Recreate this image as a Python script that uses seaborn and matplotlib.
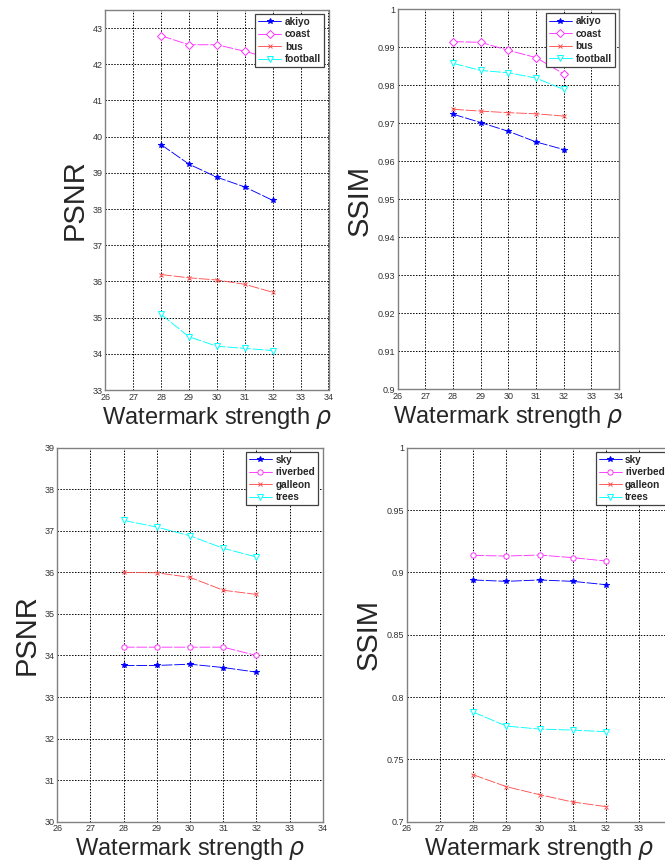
import matplotlib
matplotlib.use("Agg")
import matplotlib.pyplot as plt
import matplotlib.ticker as mticker
import numpy as np
import pandas as pd
import seaborn as sns

sns.set_style("white")
plt.rcParams["font.family"] = ["Liberation Sans", "DejaVu Sans"]
plt.rcParams["mathtext.fontset"] = "dejavusans"

# ---------------- data ----------------
rho = [28, 29, 30, 31, 32]

# top-left: PSNR
psnr_akiyo = [39.78, 39.24, 38.88, 38.61, 38.24]
psnr_coast = [42.79, 42.54, 42.54, 42.36, 42.15]
psnr_bus = [36.19, 36.10, 36.04, 35.92, 35.70]
psnr_football = [35.09, 34.47, 34.21, 34.15, 34.09]

# top-right: SSIM
ssim_akiyo = [0.9724, 0.9702, 0.9679, 0.9651, 0.9631]
ssim_coast = [0.9915, 0.9913, 0.9892, 0.9873, 0.9830]
ssim_bus = [0.9737, 0.9732, 0.9728, 0.9725, 0.9719]
ssim_football = [0.9858, 0.9839, 0.9833, 0.9819, 0.9789]

# bottom-left: PSNR
psnr_sky = [33.76, 33.76, 33.79, 33.71, 33.60]
psnr_riverbed = [34.20, 34.20, 34.20, 34.20, 34.00]
psnr_galleon = [36.00, 35.99, 35.88, 35.57, 35.47]
psnr_trees = [37.25, 37.09, 36.88, 36.58, 36.37]

# bottom-right: SSIM
ssim_sky = [0.8939, 0.8928, 0.8939, 0.8928, 0.8901]
ssim_riverbed = [0.9136, 0.9131, 0.9139, 0.9118, 0.9091]
ssim_galleon = [0.7377, 0.7281, 0.7217, 0.7158, 0.7121]
ssim_trees = [0.7880, 0.7767, 0.7743, 0.7735, 0.7722]

top_names = ["akiyo", "coast", "bus", "football"]
bot_names = ["sky", "riverbed", "galleon", "trees"]

colors = ["#0000FF", "#FF33FF", "#FF5050", "#00FFFF"]
top_markers = ["*", "D", "x", "v"]
bot_markers = ["*", "o", "x", "v"]
marker_sizes = [4, 3.8, 2.8, 4.2]
open_marker = [False, True, False, True]

xlabel_text = r"Watermark strength $\rho$"

W, H = 665, 863
fig = plt.figure(figsize=(W / 100, H / 100), dpi=100)


def px_rect(left, right, top, bottom):
    return [left / W, 1 - bottom / H, (right - left) / W, (bottom - top) / H]


def panel(rect, names, series, markers, ylim, ystep, ylabel, ylab_px):
    ax = fig.add_axes(rect)
    for name, vals, col, mk, ms, op in zip(names, series, colors, markers,
                                           marker_sizes, open_marker):
        df = pd.DataFrame({"rho": rho, "val": vals})
        kw = dict(marker=mk, markersize=ms, markeredgecolor=col,
                  markeredgewidth=0.7,
                  markerfacecolor="white" if op else col)
        sns.lineplot(data=df, x="rho", y="val", ax=ax, color=col, label=name,
                     linewidth=0.65, linestyle=(0, (12, 2)), **kw)
    ax.set_xlim(26, 34)
    ax.set_ylim(*ylim)
    ax.xaxis.set_major_locator(mticker.MultipleLocator(1))
    ax.yaxis.set_major_locator(mticker.MultipleLocator(ystep))
    ax.yaxis.set_major_formatter(mticker.FuncFormatter(lambda v, p: f"{round(v, 4):g}"))
    ax.grid(True, color="black", linestyle=(0, (1.5, 1.5)), linewidth=0.7)
    ax.set_axisbelow(True)
    ax.tick_params(direction="in", length=3, width=0.6, labelsize=6.5,
                   pad=2, colors="#555555")
    for lbl in ax.get_xticklabels() + ax.get_yticklabels():
        lbl.set_color("#333333")
    for s in ax.spines.values():
        s.set_color("#808080")
        s.set_linewidth(1.0)
    ax.set_xlabel(xlabel_text, fontsize=17, labelpad=2)
    ax.set_ylabel("")
    fig.text(ylab_px[0] / W, 1 - ylab_px[1] / H, ylabel, rotation=90,
             ha="center", va="center", fontsize=21)
    bb = ax.get_position()
    wpx = bb.width * W
    hpx = bb.height * H
    leg = ax.legend(loc="upper right", bbox_to_anchor=(1 - 4.5 / wpx, 1 - 4 / hpx),
                    borderaxespad=0, frameon=True, fancybox=False,
                    edgecolor="#404040", framealpha=1,
                    prop={"weight": "bold", "size": 7.2},
                    handlelength=2.3, handletextpad=0.35, labelspacing=0.25,
                    borderpad=0.3)
    leg.get_frame().set_linewidth(0.9)
    for ln in leg.get_lines():
        ln.set_linestyle("-")
    return ax


panel(px_rect(105.3, 328.5, 10, 390), top_names,
      [psnr_akiyo, psnr_coast, psnr_bus, psnr_football], top_markers,
      (33, 43.5), 1, "PSNR", (75, 200))
panel(px_rect(397.7, 619, 9.3, 389.3), top_names,
      [ssim_akiyo, ssim_coast, ssim_bus, ssim_football], top_markers,
      (0.9, 1.0), 0.01, "SSIM", (360, 200))
panel(px_rect(57.3, 322.7, 447.7, 821.7), bot_names,
      [psnr_sky, psnr_riverbed, psnr_galleon, psnr_trees], bot_markers,
      (30, 39), 1, "PSNR", (27, 635))
panel(px_rect(406.7, 672.3, 447.7, 821.7), bot_names,
      [ssim_sky, ssim_riverbed, ssim_galleon, ssim_trees], bot_markers,
      (0.7, 1.0), 0.05, "SSIM", (369, 635))

fig.savefig("out.png", dpi=100)
